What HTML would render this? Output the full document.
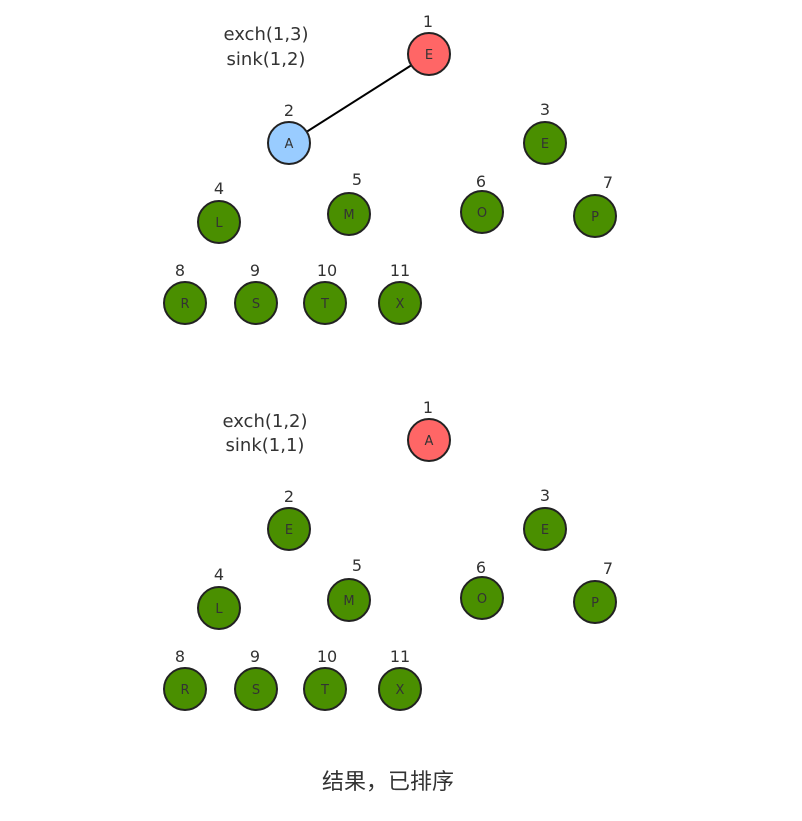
<!DOCTYPE html>
<html><head><meta charset="utf-8"><style>
body{margin:0;background:#fff;width:802px;height:816px;overflow:hidden}
text{font-family:"DejaVu Sans","Liberation Sans",sans-serif}
</style></head><body>
<svg width="802" height="816">
<script>
const idx=[1,2,3,4,5,6,7,8,9,10,11];
const top1=["E","A","E","L","M","O","P","R","S","T","X"];
const top2=["A","E","E","L","M","O","P","R","S","T","X"];
</script>
<g id="g"></g>
<text x="266" y="40" font-size="18" fill="#333" text-anchor="middle">exch(1,3)</text>
<text x="266" y="65" font-size="18" fill="#333" text-anchor="middle">sink(1,2)</text>
<text x="265" y="427" font-size="18" fill="#333" text-anchor="middle">exch(1,2)</text>
<text x="265" y="451" font-size="18" fill="#333" text-anchor="middle">sink(1,1)</text>
<text x="388" y="789" font-size="22" fill="#333" text-anchor="middle" font-family="'Liberation Sans','Noto Sans CJK SC',sans-serif">结果，已排序</text>
</svg>
<script>
const P=[[429,54],[289,143],[545,143],[219,222],[349,214],[482,212],[595,216],[185,303],[256,303],[325,303],[400,303]];
const L=[[428,27],[289,116],[545,115],[219,194],[357,185],[481,187],[608,188],[180,276],[255,276],[327,276],[400,276]];
const g=document.getElementById('g');const NS='http://www.w3.org/2000/svg';
function mk(t,a){const e=document.createElementNS(NS,t);for(const k in a)e.setAttribute(k,a[k]);g.appendChild(e);return e;}
const ln=mk('line',{x1:289,y1:143,x2:429,y2:54,stroke:'#000','stroke-width':2});


[[top1,0],[top2,386]].forEach(([vals,dy],t)=>{
 vals.forEach((v,i)=>{
  let fill='#4a8f00';
  if(i===0)fill='#ff6666';
  if(t===0&&i===1)fill='#99ccff';
  const c=mk('circle',{cx:P[i][0],cy:P[i][1]+dy,r:21,fill:fill,stroke:'#222','stroke-width':2});
  
  
  const tx=mk('text',{x:P[i][0],y:P[i][1]+dy+5,'font-size':13,fill:'#333','text-anchor':'middle'});
  tx.textContent=v;
  
  
  const lb=mk('text',{x:L[i][0],y:L[i][1]+dy,'font-size':16,fill:'#333','text-anchor':'middle'});
  lb.textContent=idx[i];
  
  
 });
});
</script>
</body></html>
